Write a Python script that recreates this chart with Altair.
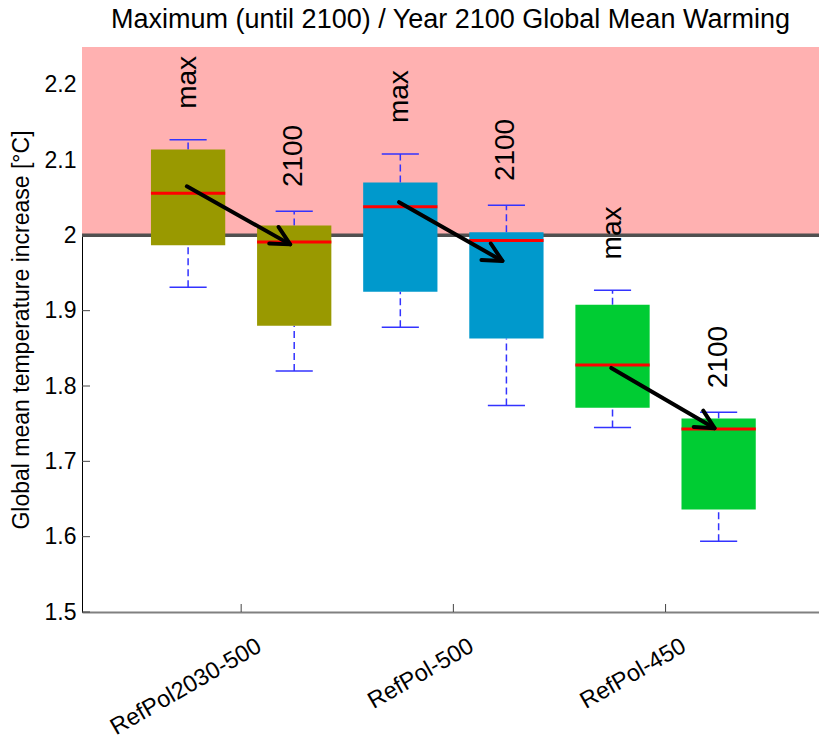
import json
import math
import altair as alt
import pandas as pd

# ---------------- data ----------------
scenarios = ["RefPol2030-500", "RefPol-500", "RefPol-450"]
box_colors = ["#999900", "#0099CC", "#00CC33"]
kinds = ["max", "2100"]

# "max" (maximum until 2100) boxes
max_lo = [1.931, 1.878, 1.745]
max_q1 = [1.987, 1.925, 1.771]
max_med = [2.056, 2.038, 1.828]
max_q3 = [2.114, 2.070, 1.908]
max_hi = [2.127, 2.108, 1.927]

# "2100" (year 2100) boxes
end_lo = [1.820, 1.774, 1.594]
end_q1 = [1.880, 1.863, 1.636]
end_med = [1.991, 1.993, 1.743]
end_q3 = [2.013, 2.004, 1.757]
end_hi = [2.032, 2.040, 1.765]

# arrows from max to 2100
arrow_from = [2.065, 2.044, 1.824]
arrow_to = [1.988, 1.966, 1.744]

threshold = 2.0
y_ticks = [1.5, 1.6, 1.7, 1.8, 1.9, 2.0, 2.1, 2.2]
x_ticks = [1, 2, 3]

# ---------------- layout constants ----------------
W, H = 737, 565
XMIN, XMAX = 0.25, 3.723
YMIN, YMAX = 1.5, 2.25
OFFSET = 0.25        # box offset from category centre
HALF_BOX = 0.175
HALF_CAP = 0.0875
LABEL_OFF = {"max": 0.041, "2100": 0.032}
FONT = "Liberation Sans"

px_x = W / (XMAX - XMIN)
px_y = H / (YMAX - YMIN)

rows = []
for i, s in enumerate(scenarios):
    for kind, off, lo, q1, med, q3, hi in [
        ("max", -OFFSET, max_lo[i], max_q1[i], max_med[i], max_q3[i], max_hi[i]),
        ("2100", OFFSET, end_lo[i], end_q1[i], end_med[i], end_q3[i], end_hi[i]),
    ]:
        pos = i + 1 + off
        rows.append(dict(scenario=s, kind=kind, pos=pos,
                         xl=pos - HALF_BOX, xr=pos + HALF_BOX,
                         cl=pos - HALF_CAP, cr=pos + HALF_CAP,
                         lo=lo, q1=q1, med=med, q3=q3, hi=hi,
                         label_y=hi + LABEL_OFF[kind]))
boxes = pd.DataFrame(rows)

arows = []
for i, s in enumerate(scenarios):
    x0 = i + 1 - OFFSET - 0.006
    x1 = i + 1 + OFFSET - 0.019
    y0, y1 = arrow_from[i], arrow_to[i]
    ang = math.degrees(math.atan2((y0 - y1) * px_y, (x1 - x0) * px_x)) % 360
    arows.append(dict(x0=x0, x1=x1, y0=y0, y1=y1, ang=ang))
arrows = pd.DataFrame(arows)

xscale = alt.Scale(domain=[XMIN, XMAX], nice=False, zero=False)
yscale = alt.Scale(domain=[YMIN, YMAX], nice=False, zero=False)

label_expr = json.dumps(scenarios) + "[datum.value - 1]"
xaxis = alt.Axis(values=x_ticks, labelExpr=label_expr, title=None,
                 labelAngle=330, labelAlign="right", labelBaseline="middle",
                 labelOffset=18, labelPadding=32, labelFontSize=23.5,
                 labelColor="black", labelFont=FONT, labelOverlap=False,
                 labelFlush=False,
                 ticks=False, tickSize=0, grid=False,
                 domainColor="#808080", domainWidth=2)
yaxis = alt.Axis(values=y_ticks, format="~g", title="Global mean temperature increase [°C]",
                 labelFontSize=23, labelColor="black", labelFont=FONT, labelPadding=6,
                 ticks=False, tickSize=0, grid=False,
                 domainColor="black", domainWidth=1,
                 titleFontSize=23, titleFontWeight="normal", titleFont=FONT,
                 titleColor="black", titlePadding=11)


def X(f):
    return alt.X(f, type="quantitative", scale=xscale, axis=xaxis)


def Y(f):
    return alt.Y(f, type="quantitative", scale=yscale, axis=yaxis)


color = alt.Color("scenario:N", scale=alt.Scale(domain=scenarios, range=box_colors), legend=None)

# inward ticks
ytick_df = pd.DataFrame({"v": y_ticks})
xtick_df = pd.DataFrame({"v": x_ticks})
yticks = alt.Chart(ytick_df).mark_rule(color="#444444", strokeWidth=1).encode(
    y=Y("v"), x=alt.value(0), x2=alt.value(8))
xticks = alt.Chart(xtick_df).mark_rule(color="#444444", strokeWidth=1).encode(
    x=X("v"), y=alt.value(H), y2=alt.value(H - 8))

band_df = pd.DataFrame({"lo": [threshold], "hi": [YMAX]})
band = alt.Chart(band_df).mark_rect(color="#FFB1B1").encode(
    y=Y("lo"), y2="hi", x=alt.value(0), x2=alt.value(W))
line2 = alt.Chart(band_df).mark_rule(color="#505050", strokeWidth=3.5).encode(
    y=Y("lo"), x=alt.value(0), x2=alt.value(W))

base = alt.Chart(boxes)
wlow = base.mark_rule(color="#3333FF", strokeWidth=1.5, strokeDash=[7, 4]).encode(
    x=X("pos"), y=Y("lo"), y2="q1")
whigh = base.mark_rule(color="#3333FF", strokeWidth=1.5, strokeDash=[7, 4]).encode(
    x=X("pos"), y=Y("q3"), y2="hi")
caplo = base.mark_rule(color="#3333FF", strokeWidth=1.5).encode(
    x=X("cl"), x2="cr", y=Y("lo"))
caphi = base.mark_rule(color="#3333FF", strokeWidth=1.5).encode(
    x=X("cl"), x2="cr", y=Y("hi"))
rects = base.mark_rect().encode(x=X("xl"), x2="xr", y=Y("q1"), y2="q3", color=color)
meds = base.mark_rule(color="#FF0000", strokeWidth=3).encode(
    x=X("xl"), x2="xr", y=Y("med"))
labels = base.mark_text(angle=270, align="left", baseline="middle",
                        fontSize=28, font=FONT, color="black").encode(
    x=X("pos"), y=Y("label_y"), text="kind:N")

abase = alt.Chart(arrows)
shaft = abase.mark_rule(color="black", strokeWidth=4, strokeCap="round").encode(
    x=X("x0"), y=Y("y0"), x2="x1", y2="y1")
head = abase.mark_point(shape="M -0.89 -0.45 L 0 0 L -0.89 0.45", filled=False,
                        stroke="black", strokeWidth=4, size=1764, opacity=1,
                        strokeCap="round", strokeJoin="round").encode(
    x=X("x1"), y=Y("y1"), angle=alt.Angle("ang:Q", scale=None))

chart = alt.layer(
    yticks, xticks, band, line2, wlow, whigh, caplo, caphi, rects, meds, shaft, head, labels
).properties(
    width=W, height=H,
    title=alt.TitleParams("Maximum (until 2100) / Year 2100 Global Mean Warming",
                          fontSize=27, font=FONT, fontWeight="normal", color="black",
                          anchor="middle", offset=13),
    autosize=alt.AutoSizeParams(type="none"),
    padding={"left": 82, "top": 47, "right": 0, "bottom": 127},
).configure_view(stroke=None).configure(background="white")

chart.save("out.html", embed_options={"renderer": "svg", "actions": False})
